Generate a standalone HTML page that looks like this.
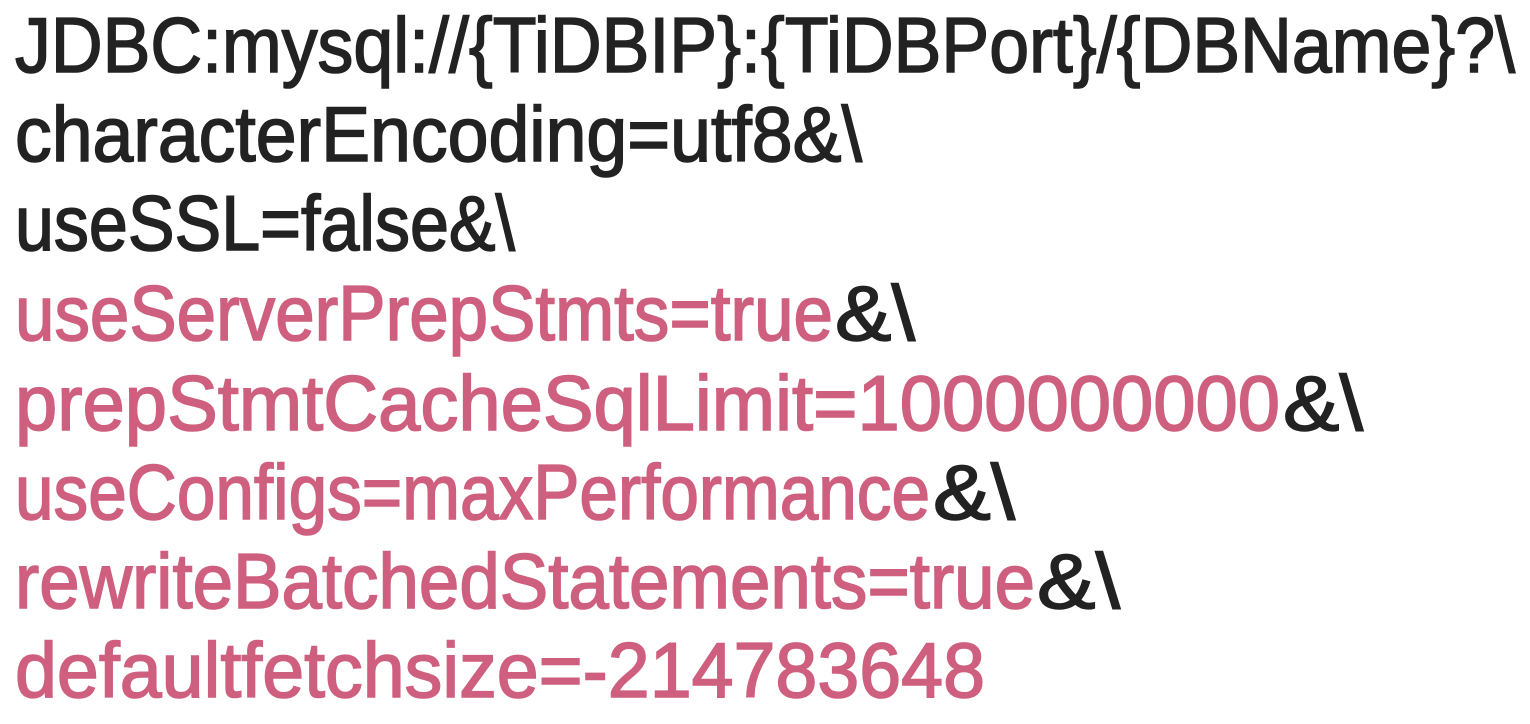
<!DOCTYPE html>
<html><head><meta charset="utf-8"><style>
html,body{margin:0;padding:0;background:#fff;width:1530px;height:724px;overflow:hidden}
svg text{font-family:"Liberation Sans",sans-serif;font-size:78px;stroke-width:1.6px}
.k{fill:#222;stroke:#222}.p{fill:#cf5f7e;stroke:#cf5f7e}
</style></head><body>
<svg width="1530" height="724" viewBox="0 0 1530 724">
<text class="k" x="15" y="72" textLength="1500" lengthAdjust="spacingAndGlyphs">JDBC:mysql://{TiDBIP}:{TiDBPort}/{DBName}?\</text>
<text class="k" x="15" y="161" textLength="847" lengthAdjust="spacingAndGlyphs">characterEncoding=utf8&amp;\</text>
<text class="k" x="15" y="250" textLength="500" lengthAdjust="spacingAndGlyphs">useSSL=false&amp;\</text>
<text class="p" x="15" y="340" textLength="818" lengthAdjust="spacingAndGlyphs">useServerPrepStmts=true</text>
<text class="k" x="835" y="340" textLength="80" lengthAdjust="spacingAndGlyphs">&amp;\</text>
<text class="p" x="15" y="430" textLength="1265" lengthAdjust="spacingAndGlyphs">prepStmtCacheSqlLimit=1000000000</text>
<text class="k" x="1283" y="430" textLength="80" lengthAdjust="spacingAndGlyphs">&amp;\</text>
<text class="p" x="15" y="519" textLength="915" lengthAdjust="spacingAndGlyphs">useConfigs=maxPerformance</text>
<text class="k" x="933" y="519" textLength="82" lengthAdjust="spacingAndGlyphs">&amp;\</text>
<text class="p" x="15" y="608" textLength="1020" lengthAdjust="spacingAndGlyphs">rewriteBatchedStatements=true</text>
<text class="k" x="1037" y="608" textLength="83" lengthAdjust="spacingAndGlyphs">&amp;\</text>
<text class="p" x="15" y="697" textLength="970" lengthAdjust="spacingAndGlyphs">defaultfetchsize=-214783648</text>
</svg>
</body></html>
